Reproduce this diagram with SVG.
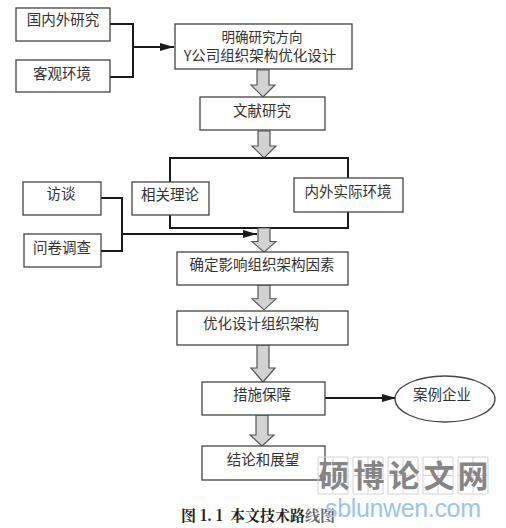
<svg xmlns="http://www.w3.org/2000/svg" width="506" height="528" viewBox="0 0 506 528">
<defs>
<marker id="ah" markerUnits="userSpaceOnUse" markerWidth="14" markerHeight="10" refX="14" refY="4" orient="auto"><path d="M0 0L14 4L0 8Z" fill="#1a1a1a"/></marker>
<path id="blk" d="M-6 0H6V15H12L0 27L-12 15H-6Z" fill="#d2d2d2" stroke="#555" stroke-width="1.2"/>
<path id="cell" d="M0 0H30V37H0ZM15 0V37M0 18.500H30" fill="none" stroke="#d4d4d4" stroke-width="1"/>
</defs>
<style>
.b{fill:#fff;stroke:#444;stroke-width:1.3}
.t{font-family:"Noto Sans CJK SC","Liberation Sans",sans-serif;font-size:14.500px;fill:#333;text-anchor:middle}
.c{fill:none;stroke:#1a1a1a;stroke-width:2}
.w{font-family:"Noto Sans CJK SC",sans-serif;font-weight:700;font-size:31px;fill:#868686;text-anchor:middle}
.cap{font-family:"Noto Serif CJK SC","Noto Sans CJK SC",serif;font-weight:700;font-size:15px;fill:#222}
</style>
<rect width="506" height="528" fill="#fff"/>
<g id="connectors">
<path class="c" d="M110 24H133V77H110"/>
<path class="c" d="M133 47H174" marker-end="url(#ah)"/>
<use href="#blk" transform="translate(263 70)"/>
<use href="#blk" transform="translate(264 131)"/>
<path class="c" d="M170 209V158H348V212M170 215V228H348V212"/>
<use href="#blk" transform="translate(264 228) scale(1 .9)"/>
<path class="c" d="M101 198H122V251H101"/>
<path class="c" d="M122 234H257" marker-end="url(#ah)"/>
<use href="#blk" transform="translate(264 285) scale(1 .92)"/>
<path d="M257 345H269V368H275L263 382L251 368H257Z" fill="#d2d2d2" stroke="#555" stroke-width="1.2"/>
<path d="M256 415H268V435H274L262 446L250 435H256Z" fill="#d2d2d2" stroke="#555" stroke-width="1.2"/>
<path class="c" d="M325 398H396" marker-end="url(#ah)"/>
</g>
<g id="n1"><rect class="b" x="16" y="8" width="94" height="33"/><text class="t" x="63" y="25">国内外研究</text></g>
<g id="n2"><rect class="b" x="16" y="60" width="94" height="32"/><text class="t" x="62" y="79">客观环境</text></g>
<g id="n3"><rect class="b" x="175" y="24" width="177" height="45"/><text class="t" x="262" y="42" style="font-size:13.500px">明确研究方向</text><text class="t" x="260" y="61">Y公司组织架构优化设计</text></g>
<g id="n4"><rect class="b" x="200" y="97" width="125" height="33"/><text class="t" x="262" y="116">文献研究</text></g>
<g id="n5"><rect class="b" x="132" y="182" width="77" height="33"/><text class="t" x="170" y="200">相关理论</text></g>
<g id="n6"><rect class="b" x="294" y="178" width="109" height="34"/><text class="t" x="348" y="197">内外实际环境</text></g>
<g id="n7"><rect class="b" x="23" y="182" width="78" height="33"/><text class="t" x="61" y="199">访谈</text></g>
<g id="n8"><rect class="b" x="24" y="234" width="77" height="33"/><text class="t" x="62" y="253">问卷调查</text></g>
<g id="n9"><rect class="b" x="177" y="252" width="171" height="33"/><text class="t" x="262" y="270">确定影响组织架构因素</text></g>
<g id="n10"><rect class="b" x="177" y="311" width="171" height="34"/><text class="t" x="261" y="329">优化设计组织架构</text></g>
<g id="n11"><rect class="b" x="202" y="382" width="123" height="33"/><text class="t" x="262" y="400">措施保障</text></g>
<g id="n12"><ellipse class="b" cx="445" cy="399" rx="50" ry="23"/><text class="t" x="442" y="400">案例企业</text></g>
<g id="n13"><rect class="b" x="202" y="446" width="123" height="34"/><text class="t" x="263" y="465">结论和展望</text></g>
<text class="cap" y="521"><tspan x="181">图</tspan><tspan x="200">1. 1</tspan><tspan x="230">本文技术路</tspan><tspan x="305" style="fill:#666">线图</tspan></text>
<g id="watermark">
<use href="#cell" x="318" y="457"/><use href="#cell" x="353" y="457"/><use href="#cell" x="388" y="457"/><use href="#cell" x="423" y="457"/><use href="#cell" x="458" y="457"/>
<text class="w" x="334" y="487">硕</text><text class="w" x="369" y="487">博</text><text class="w" x="404" y="487">论</text><text class="w" x="439" y="487">文</text><text class="w" x="473" y="487">网</text>
<text x="325" y="517" style="font-family:'Liberation Sans',sans-serif;font-size:25px;fill:#9cc4ea" textLength="156">sblunwen.com</text>
</g>
</svg>
